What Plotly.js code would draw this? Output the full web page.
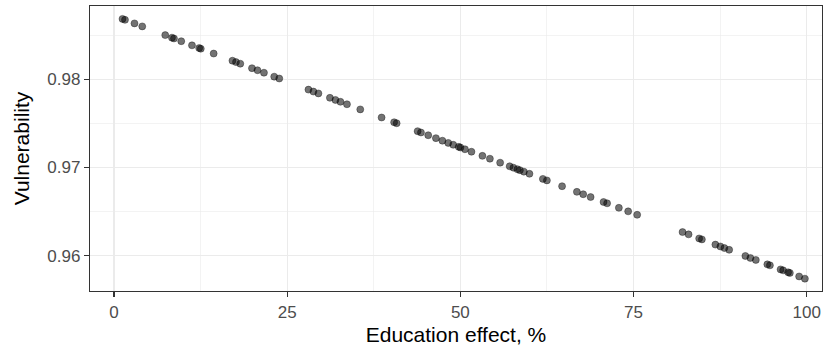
<!DOCTYPE html>
<html>
<head>
<meta charset="utf-8">
<script src="https://cdn.plot.ly/plotly-3.0.1.min.js"></script>
<style>html,body{margin:0;padding:0;background:#fff;}#chart{width:831px;height:352px;}</style>
</head>
<body>
<div id="chart"></div>
<script>
// Education effect (%) for each simulated point
const educationEffect = [
  1.23, 1.59, 2.96, 4.08, 7.40, 8.37, 8.66, 9.71, 11.26, 12.30, 12.53, 14.39,
  17.10, 17.61, 18.23, 19.92, 20.71, 21.65, 23.13, 23.86, 28.07, 28.79, 29.51,
  31.17, 31.97, 32.69, 33.63, 35.55, 38.63, 40.44, 40.80, 43.83, 44.31, 45.36,
  46.47, 47.41, 48.25, 48.97, 49.76, 50.01, 50.66, 51.60, 53.18, 54.26, 55.74,
  57.12, 57.66, 58.23, 58.59, 59.17, 59.97, 61.91, 62.49, 64.68, 66.82, 67.73,
  68.80, 70.67, 71.18, 72.88, 74.22, 75.52, 82.07, 82.94, 84.47, 84.86, 86.81,
  87.53, 88.11, 88.80, 91.14, 91.86, 92.65, 94.31, 94.68, 96.22, 96.59, 97.31,
  97.56, 98.90, 99.73
];
// Vulnerability for each point
const vulnerability = [
  0.98685, 0.98674, 0.98634, 0.98600, 0.98501, 0.98472, 0.98463, 0.98432, 0.98385, 0.98354, 0.98347, 0.98292,
  0.98211, 0.98195, 0.98177, 0.98126, 0.98103, 0.98075, 0.98030, 0.98009, 0.97883, 0.97861, 0.97840,
  0.97790, 0.97766, 0.97745, 0.97717, 0.97659, 0.97567, 0.97513, 0.97502, 0.97412, 0.97397, 0.97366,
  0.97333, 0.97304, 0.97279, 0.97258, 0.97234, 0.97227, 0.97207, 0.97179, 0.97132, 0.97100, 0.97055,
  0.97014, 0.96998, 0.96981, 0.96970, 0.96953, 0.96929, 0.96871, 0.96854, 0.96788, 0.96724, 0.96697,
  0.96665, 0.96609, 0.96594, 0.96543, 0.96503, 0.96464, 0.96268, 0.96242, 0.96196, 0.96185, 0.96126,
  0.96105, 0.96087, 0.96067, 0.95997, 0.95975, 0.95952, 0.95902, 0.95891, 0.95845, 0.95834, 0.95812,
  0.95805, 0.95765, 0.95740
];
const xTickVals = [0, 25, 50, 75, 100];
const xTickText = ["0", "25", "50", "75", "100"];
const yTickVals = [0.96, 0.97, 0.98];
const yTickText = ["0.96", "0.97", "0.98"];
const xTitle = "Education effect, %";
const yTitle = "Vulnerability";

const trace = {
  type: "scatter",
  mode: "markers",
  x: educationEffect,
  y: vulnerability,
  marker: {
    color: "rgba(0,0,0,0.55)",
    size: 7,
    line: {color: "rgba(0,0,0,0.35)", width: 1}
  },
  hoverinfo: "x+y"
};

const fontFam = "Liberation Sans, Arial, sans-serif";
const axisCommon = {
  showline: true,
  mirror: true,
  linecolor: "#333333",
  linewidth: 1.2,
  ticks: "outside",
  ticklen: 5,
  tickwidth: 1.1,
  tickcolor: "#333333",
  showgrid: true,
  gridcolor: "#EBEBEB",
  gridwidth: 1.1,
  zeroline: false,
  tickfont: {family: fontFam, size: 17, color: "#4D4D4D"}
};

const layout = {
  width: 831,
  height: 352,
  margin: {l: 90, r: 9, t: 6, b: 61},
  paper_bgcolor: "#ffffff",
  plot_bgcolor: "#ffffff",
  showlegend: false,
  xaxis: Object.assign({}, axisCommon, {
    range: [-3.46, 102.2],
    tickvals: xTickVals,
    ticktext: xTickText,
    minor: {dtick: 12.5, tick0: 0, showgrid: true, gridcolor: "#EBEBEB", gridwidth: 0.6, ticks: ""},
    title: {text: xTitle, font: {family: fontFam, size: 21, color: "#000000"}, standoff: 6}
  }),
  yaxis: Object.assign({}, axisCommon, {
    range: [0.95600, 0.98831],
    tickvals: yTickVals,
    ticktext: yTickText,
    minor: {dtick: 0.005, tick0: 0.96, showgrid: true, gridcolor: "#EBEBEB", gridwidth: 0.6, ticks: ""},
    title: {text: yTitle, font: {family: fontFam, size: 21, color: "#000000"}, standoff: 12}
  })
};

Plotly.newPlot("chart", [trace], layout, {displayModeBar: false, staticPlot: true});
</script>
</body>
</html>
